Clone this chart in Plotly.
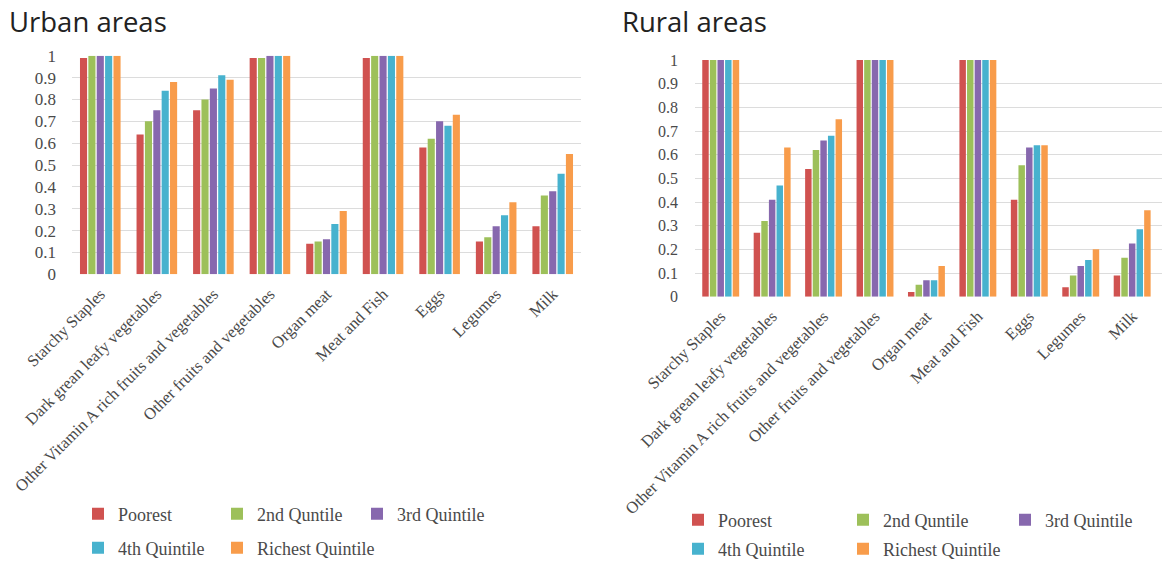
import plotly.graph_objects as go

# Food groups on the horizontal axis (labels as printed in the source)
categories = [
    "Starchy Staples",
    "Dark grean leafy vegetables",
    "Other Vitamin A rich fruits and vegetables",
    "Other fruits and vegetables",
    "Organ meat",
    "Meat and Fish",
    "Eggs",
    "Legumes",
    "Milk",
]

quintiles = ["Poorest", "2nd Quntile", "3rd Quintile", "4th Quintile", "Richest Quintile"]

# Share of households consuming each food group, urban areas
urban_poorest = [0.99, 0.64, 0.75, 0.99, 0.14, 0.99, 0.58, 0.15, 0.22]
urban_q2 = [1.00, 0.70, 0.80, 0.99, 0.15, 1.00, 0.62, 0.17, 0.36]
urban_q3 = [1.00, 0.75, 0.85, 1.00, 0.16, 1.00, 0.70, 0.22, 0.38]
urban_q4 = [1.00, 0.84, 0.91, 1.00, 0.23, 1.00, 0.68, 0.27, 0.46]
urban_richest = [1.00, 0.88, 0.89, 1.00, 0.29, 1.00, 0.73, 0.33, 0.55]

# Share of households consuming each food group, rural areas
rural_poorest = [1.00, 0.27, 0.54, 1.00, 0.02, 1.00, 0.41, 0.04, 0.09]
rural_q2 = [1.00, 0.32, 0.62, 1.00, 0.05, 1.00, 0.555, 0.09, 0.165]
rural_q3 = [1.00, 0.41, 0.66, 1.00, 0.07, 1.00, 0.63, 0.13, 0.225]
rural_q4 = [1.00, 0.47, 0.68, 1.00, 0.07, 1.00, 0.64, 0.155, 0.285]
rural_richest = [1.00, 0.63, 0.75, 1.00, 0.13, 1.00, 0.64, 0.20, 0.365]

y_ticks = [0, 0.1, 0.2, 0.3, 0.4, 0.5, 0.6, 0.7, 0.8, 0.9, 1]
y_tick_text = ["0", "0.1", "0.2", "0.3", "0.4", "0.5", "0.6", "0.7", "0.8", "0.9", "1"]

colors = ["#D05250", "#9DC05A", "#8768AE", "#47B2CE", "#F89C4B"]

urban = [urban_poorest, urban_q2, urban_q3, urban_q4, urban_richest]
rural = [rural_poorest, rural_q2, rural_q3, rural_q4, rural_richest]

W, H = 1162, 561
SERIF = "Liberation Serif"
TXT = "#4a4a4a"

# Where each legend entry's label starts (pixels from the top-left corner)
urban_legend_pos = [(118, 514), (257, 514), (397, 514), (118, 548), (257, 548)]
rural_legend_pos = [(718, 520), (883, 520), (1045, 520), (718, 549), (883, 549)]
LEGEND_TEXT_OFFSET = 40


def fx(px):
    return px / W


def fy(px):
    return 1 - px / H


fig = go.Figure()
legends = {}

panels = [("x", "y", urban, urban_legend_pos, 1), ("x2", "y2", rural, rural_legend_pos, 6)]
for xa, ya, series, positions, first_legend in panels:
    for i, (name, vals) in enumerate(zip(quintiles, series)):
        n = first_legend + i
        key = "legend" if n == 1 else f"legend{n}"
        fig.add_trace(go.Bar(
            x=categories, y=vals, name=name,
            marker=dict(color=colors[i], line=dict(width=0)),
            xaxis=xa, yaxis=ya, legend=key,
        ))
        tx, ty = positions[i]
        legends[key] = dict(
            orientation="h",
            xref="paper", yref="paper",
            xanchor="left", yanchor="middle",
            x=fx(tx - LEGEND_TEXT_OFFSET), y=fy(ty),
            font=dict(family=SERIF, size=18, color=TXT),
            bgcolor="rgba(0,0,0,0)",
            borderwidth=0,
            itemclick=False, itemdoubleclick=False,
        )

xaxis_common = dict(
    type="category",
    tickangle=-45,
    tickfont=dict(family=SERIF, size=16.5, color=TXT),
    ticklabelstandoff=6,
    showgrid=False,
    showline=False,
    ticks="",
    automargin=False,
    fixedrange=True,
)
yaxis_common = dict(
    range=[0, 1],
    tickvals=y_ticks,
    ticktext=y_tick_text,
    showgrid=True,
    gridcolor="#DCDCDC",
    gridwidth=1,
    zeroline=False,
    showline=False,
    ticks="",
    automargin=False,
    fixedrange=True,
)

fig.update_layout(
    width=W, height=H,
    margin=dict(l=0, r=0, t=0, b=0, autoexpand=False),
    paper_bgcolor="white",
    plot_bgcolor="white",
    barmode="group",
    bargap=0.26,
    bargroupgap=0.15,
    xaxis=dict(xaxis_common, domain=[fx(72), fx(581)], anchor="y", range=[-0.5, 8.5]),
    yaxis=dict(yaxis_common, domain=[fy(274.3), fy(55.7)], anchor="x",
               tickfont=dict(family=SERIF, size=17, color=TXT), ticklabelstandoff=15),
    xaxis2=dict(xaxis_common, domain=[fx(695), 1.0], anchor="y2", range=[-0.5, 8.58]),
    yaxis2=dict(yaxis_common, domain=[fy(296.7), fy(60)], anchor="x2",
                tickfont=dict(family=SERIF, size=16, color=TXT), ticklabelstandoff=16),
    showlegend=True,
    **legends,
)

# Panel headings
title_font = dict(family="Open Sans", size=27.5, color="#222222")
fig.add_annotation(text="Urban areas", x=fx(7), y=fy(22), xref="paper", yref="paper",
                   xanchor="left", yanchor="middle", showarrow=False, font=title_font)
fig.add_annotation(text="Rural areas", x=fx(620), y=fy(22), xref="paper", yref="paper",
                   xanchor="left", yanchor="middle", showarrow=False, font=title_font)

fig.write_html("out.html", config={"displayModeBar": False})
